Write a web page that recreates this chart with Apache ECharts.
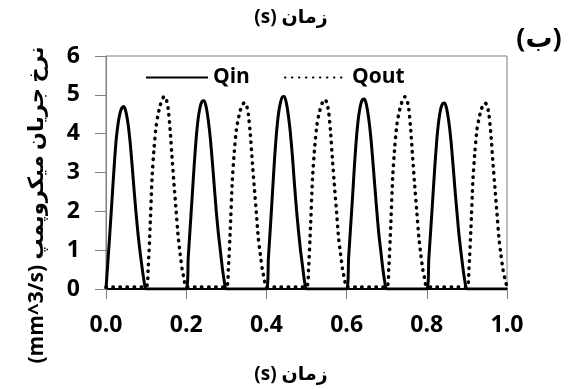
<!DOCTYPE html>
<html><head><meta charset="utf-8">
<script src="https://cdn.jsdelivr.net/npm/echarts@6/dist/echarts.min.js"></script>
<style>html,body{margin:0;padding:0;background:#fff}#c{width:575px;height:389px}</style>
</head><body><div id="c"></div>
<script>
// sampling step inside each pulse (s)
const step = 0.005;
const xTickLabels = ['0.0','0.2','0.4','0.6','0.8','1.0'];
const yTickLabels = ['0','1','2','3','4','5','6'];
const seriesNames = ['Qin','Qout'];
const qinStarts = [0.0, 0.2, 0.4, 0.6, 0.8];
const qoutStarts = [0.1, 0.3, 0.5, 0.7, 0.9];
const qinPulse1 = [0,0.75,1.5,2.3,3.1,3.8,4.25,4.53,4.67,4.70,4.55,4.25,3.8,3.2,2.55,1.95,1.4,0.95,0.55,0.2,0];
const qinPulse2 = [0,0.8,1.6,2.4,3.2,3.9,4.4,4.7,4.84,4.85,4.68,4.35,3.9,3.3,2.65,2.0,1.45,1.0,0.55,0.2,0];
const qinPulse3 = [0,0.8,1.6,2.45,3.3,4.0,4.5,4.8,4.95,4.96,4.78,4.45,4.0,3.4,2.7,2.05,1.5,1.0,0.6,0.2,0];
const qinPulse4 = [0,0.8,1.6,2.4,3.25,3.95,4.45,4.75,4.88,4.89,4.72,4.4,3.95,3.35,2.7,2.05,1.45,1.0,0.55,0.2,0];
const qinPulse5 = [0,0.78,1.55,2.35,3.15,3.85,4.35,4.65,4.78,4.79,4.62,4.3,3.85,3.25,2.6,2.0,1.42,0.97,0.55,0.2,0];
const qoutPulse1 = [0.05,0.5,1.6,2.9,3.65,4.2,4.5,4.72,4.88,4.96,4.9,4.65,4.1,3.35,2.65,2.0,1.35,0.9,0.5,0.25,0.05];
const qoutPulse2 = [0.05,0.5,1.55,2.8,3.55,4.1,4.38,4.6,4.74,4.8,4.75,4.5,3.98,3.25,2.6,1.95,1.3,0.88,0.5,0.25,0.05];
const qoutPulse3 = [0.05,0.5,1.6,2.85,3.6,4.15,4.45,4.66,4.81,4.88,4.82,4.58,4.05,3.3,2.62,1.98,1.32,0.9,0.5,0.25,0.05];
const qoutPulse4 = [0.05,0.5,1.6,2.9,3.65,4.2,4.5,4.72,4.87,4.95,4.89,4.64,4.1,3.35,2.65,2.0,1.35,0.9,0.5,0.25,0.05];
const qoutPulse5 = [0.05,0.5,1.55,2.8,3.55,4.1,4.38,4.6,4.73,4.79,4.74,4.5,3.97,3.25,2.6,1.95,1.3,0.88,0.5,0.25,0.05];
const qoutBaseline = 0.05;

function build(starts, pulses, pre, post, endT) {
  const out = [];
  if (pre !== null) out.push([0, pre]);
  starts.forEach((s, k) => {
    pulses[k].forEach((v, i) => out.push([+(s + i * step).toFixed(4), v]));
  });
  if (post !== null) out.push([endT, post]);
  return out;
}
const qinData = build(qinStarts, [qinPulse1,qinPulse2,qinPulse3,qinPulse4,qinPulse5], null, 0, 1.0);
const qoutData = build(qoutStarts, [qoutPulse1,qoutPulse2,qoutPulse3,qoutPulse4,qoutPulse5], qoutBaseline, null, 1.0);

const FF = "'Open Sans', 'DejaVu Sans', sans-serif";
const chart = echarts.init(document.getElementById('c'), null, {renderer: 'canvas'});
chart.setOption({
  animation: false,
  backgroundColor: '#fff',
  grid: {left: 106, right: 68, top: 56, bottom: 100, show: true, borderColor: '#808080', borderWidth: 1},
  legend: {
    data: seriesNames, left: 140, top: 62, itemWidth: 62, itemHeight: 14, itemGap: 34,
    itemStyle: {opacity: 0},
    textStyle: {fontFamily: FF, fontSize: 21, color: '#000', fontWeight: 'bold'}
  },
  xAxis: {
    type: 'value', min: 0, max: 1, interval: 0.2,
    axisLine: {lineStyle: {color: '#000', width: 2}},
    axisTick: {show: true, length: 10, lineStyle: {color: '#808080'}},
    splitLine: {show: false},
    axisLabel: {
      margin: 25, fontFamily: FF, fontSize: 23, fontWeight: 'bold', color: '#000',
      formatter: v => xTickLabels[Math.round(v / 0.2)]
    }
  },
  yAxis: {
    type: 'value', min: 0, max: 6, interval: 1,
    axisLine: {show: true, lineStyle: {color: '#808080'}},
    axisTick: {show: true, length: 11, lineStyle: {color: '#808080'}},
    splitLine: {show: false},
    axisLabel: {
      margin: 26, fontFamily: FF, fontSize: 23, fontWeight: 'bold', color: '#000',
      formatter: v => yTickLabels[Math.round(v)]
    }
  },
  graphic: [
    {type: 'text', x: 291, y: 18, style: {text: '\u202Bزمان (s)\u202C', font: 'bold 19px ' + FF, fill: '#000', textAlign: 'center', textVerticalAlign: 'middle'}},
    {type: 'text', x: 291, y: 375, style: {text: '\u202Bزمان (s)\u202C', font: 'bold 19px ' + FF, fill: '#000', textAlign: 'center', textVerticalAlign: 'middle'}},
    {type: 'text', x: 539, y: 39, style: {text: '(ب)', font: 'bold 27px ' + FF, fill: '#000', textAlign: 'center', textVerticalAlign: 'middle'}},
    {type: 'text', x: 37, y: 205, rotation: Math.PI / 2, style: {text: '\u202Bنرخ جریان میکروپمپ (mm^3/s)\u202C', font: 'bold 21px ' + FF, fill: '#000', textAlign: 'center', textVerticalAlign: 'middle'}}
  ],
  series: [
    {name: 'Qin', type: 'line', data: qinData, symbol: 'none', smooth: 0.2,
     lineStyle: {color: '#000', width: 3}, itemStyle: {color: '#000'}},
    {name: 'Qout', type: 'line', data: qoutData, symbol: 'none', smooth: 0.2,
     lineStyle: {color: '#000', width: 3.5, type: [0.5, 6.5], cap: 'round'}, itemStyle: {color: '#000'}}
  ]
});
</script></body></html>
